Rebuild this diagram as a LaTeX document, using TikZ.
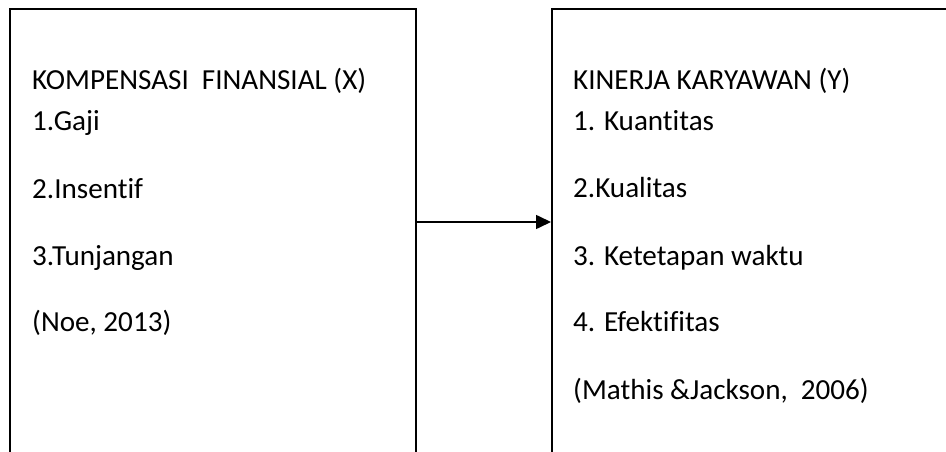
\documentclass[tikz,border=0pt]{standalone}
\usepackage{fontspec}
\setmainfont{Carlito}[Ligatures={NoCommon}]
\usetikzlibrary{arrows.meta}

\begin{document}
\begin{tikzpicture}[x=1pt, y=-1pt,
    kotak/.style={draw, line width=1.8pt, anchor=north west, inner sep=0pt, minimum height=480pt},
    teks/.style={anchor=base west, inner sep=0pt, font=\fontsize{29.1}{35}\selectfont}]
\useasboundingbox (0,0) rectangle (946,452);
\clip (0,0) rectangle (946,452);

        % Draw the two boxes (cut off at the bottom)
        \node[kotak, minimum width=406pt] (kompensasi) at (9,8) {};
        \node[kotak, minimum width=500pt] (kinerja) at (551,8) {};

        % Texts of the left box
        \node[teks] (judulX) at (32,89) {KOMPENSASI\ \ FINANSIAL (X)};
        \node[teks] (gaji) at (32,130) {1.Gaji};
        \node[teks] (insentif) at (32,198) {2.Insentif};
        \node[teks] (tunjangan) at (32,265) {3.Tunjangan};
        \node[teks] (noe) at (32,331) {(Noe, 2013)};

        % Texts of the right box
        \node[teks] (judulY) at (573,89) {KINERJA KARYAWAN (Y)};
        \node[teks] (kuantitas) at (573,130) {1. Kuantitas};
        \node[teks] (kualitas) at (573,197) {2.Kualitas};
        \node[teks] (waktu) at (573,265) {3. Ketetapan waktu};
        \node[teks] (efektif) at (573,331) {4. Efektifitas};
        \node[teks] (mathis) at (573,399) {(Mathis \&Jackson,\ \ 2006)};

        % Draw the arrow from X to Y
        \coordinate (P) at (415,222);
        \draw[line width=1.6pt, -{Triangle[length=15pt, width=14pt]}] (kompensasi.east |- P) -- (kinerja.west |- P);
\end{tikzpicture}
\end{document}
